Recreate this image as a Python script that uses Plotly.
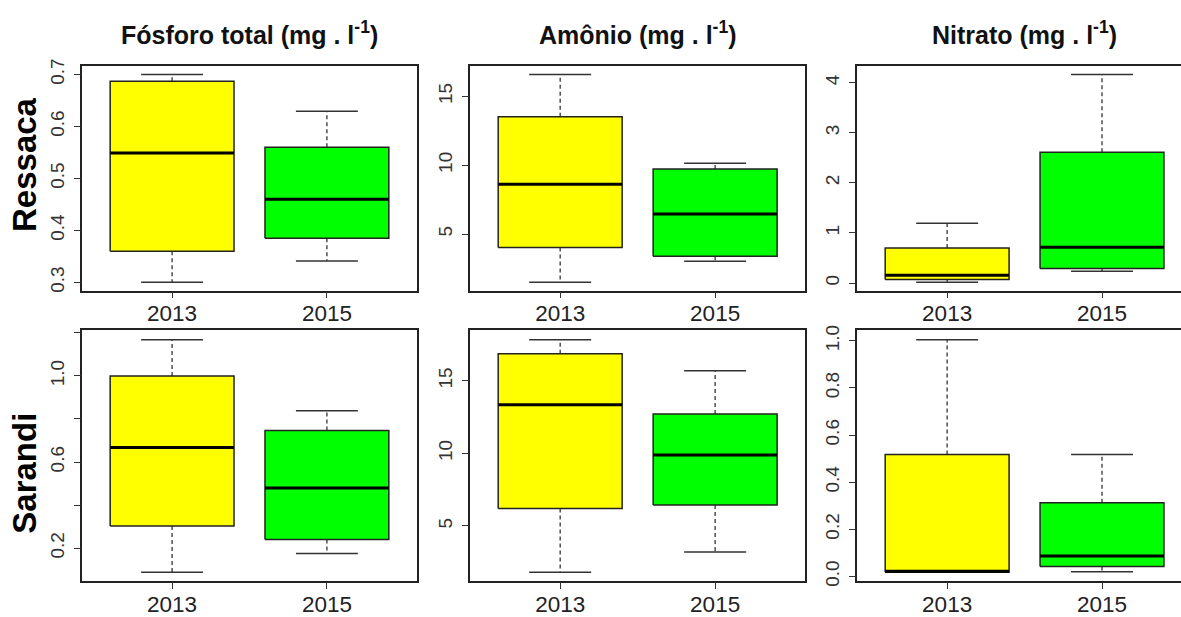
import plotly.graph_objects as go

# Categories
years = ["2013", "2015"]
sites = ["Ressaca", "Sarandi"]
titles = ["Fósforo total (mg . l<sup>-1</sup>)",
          "Amônio (mg . l<sup>-1</sup>)",
          "Nitrato (mg . l<sup>-1</sup>)"]

# Five-number summaries per year: [lower whisker, Q1, median, Q3, upper whisker]
ressaca_fosforo = [[0.300, 0.360, 0.549, 0.687, 0.700],
                   [0.341, 0.385, 0.460, 0.560, 0.629]]
ressaca_amonio = [[1.50, 4.02, 8.61, 13.51, 16.58],
                  [3.03, 3.40, 6.46, 9.72, 10.14]]
ressaca_nitrato = [[0.013, 0.070, 0.153, 0.700, 1.196],
                   [0.237, 0.290, 0.717, 2.614, 4.167]]
sarandi_fosforo = [[0.089, 0.303, 0.668, 1.000, 1.168],
                   [0.176, 0.240, 0.480, 0.746, 0.838]]
sarandi_amonio = [[1.82, 6.20, 13.35, 16.87, 17.83],
                  [3.20, 6.45, 9.89, 12.71, 15.69]]
sarandi_nitrato = [[0.018, 0.018, 0.022, 0.518, 1.005],
                   [0.020, 0.042, 0.087, 0.313, 0.518]]

# Y-axis labelled ticks and unlabelled ticks per panel
ticks_fosforo_r = [0.3, 0.4, 0.5, 0.6, 0.7]
ticks_amonio_r = [5, 10, 15]
ticks_nitrato_r = [0, 1, 2, 3, 4]
ticks_fosforo_s = [0.2, 0.6, 1.0]
minor_fosforo_s = [0.4, 0.8, 1.2]
ticks_amonio_s = [5, 10, 15]
ticks_nitrato_s = [0.0, 0.2, 0.4, 0.6, 0.8, 1.0]

panels = [
    (ressaca_fosforo, ticks_fosforo_r, []),
    (ressaca_amonio, ticks_amonio_r, []),
    (ressaca_nitrato, ticks_nitrato_r, []),
    (sarandi_fosforo, ticks_fosforo_s, minor_fosforo_s),
    (sarandi_amonio, ticks_amonio_s, []),
    (sarandi_nitrato, ticks_nitrato_s, []),
]


def fmt(v):
    if isinstance(v, int):
        return str(v)
    return f"{v:.1f}"


box_colors = ["#FFFF00", "#00FF00"]
FONT = "Liberation Sans, Arial, sans-serif"
W, H = 1181, 617

# Panel geometry (pixels)
col_px = [(82.3, 416.7), (470.3, 805.0), (857.3, 1181.0)]
row_px = [(61.0, 292.7), (333.7, 592.7)]
x_ranges = [[0.42, 2.58], [0.42, 2.58], [0.42, 2.51]]

HALF_BOX = 0.4
HALF_CAP = 0.2

fig = go.Figure()
layout = {}

for k, (stats, tvals, minor_vals) in enumerate(panels):
    r, c = divmod(k, 3)
    n = k + 1
    xa = "x" if n == 1 else f"x{n}"
    ya = "y" if n == 1 else f"y{n}"

    for i, s in enumerate(stats):
        lo, q1, med, q3, up = s
        xc = i + 1
        # dashed whiskers
        fig.add_trace(go.Scatter(
            x=[xc, xc, None, xc, xc], y=[q3, up, None, q1, lo],
            mode="lines", line=dict(color="#333333", width=1.3, dash="4px,3px"),
            xaxis=xa, yaxis=ya, showlegend=False, hoverinfo="skip"))
        # whisker caps
        fig.add_trace(go.Scatter(
            x=[xc - HALF_CAP, xc + HALF_CAP, None, xc - HALF_CAP, xc + HALF_CAP],
            y=[up, up, None, lo, lo],
            mode="lines", line=dict(color="#333333", width=1.5),
            xaxis=xa, yaxis=ya, showlegend=False, hoverinfo="skip"))
        # box
        fig.add_trace(go.Scatter(
            x=[xc - HALF_BOX, xc + HALF_BOX, xc + HALF_BOX, xc - HALF_BOX, xc - HALF_BOX],
            y=[q1, q1, q3, q3, q1],
            mode="lines", fill="toself", fillcolor=box_colors[i],
            line=dict(color="#222222", width=1.5),
            xaxis=xa, yaxis=ya, showlegend=False, hoverinfo="skip"))
        # median
        fig.add_trace(go.Scatter(
            x=[xc - HALF_BOX, xc + HALF_BOX], y=[med, med],
            mode="lines", line=dict(color="#000000", width=3),
            xaxis=xa, yaxis=ya, showlegend=False, hoverinfo="skip"))

    lows = [s[0] for s in stats]
    highs = [s[4] for s in stats]
    ymin, ymax = min(lows), max(highs)
    pad = 0.04 * (ymax - ymin)

    x0, x1 = col_px[c]
    y0, y1 = row_px[r]
    xdom = [x0 / W, min(x1 / W, 1.0)]
    ydom = [1 - y1 / H, 1 - y0 / H]

    layout["xaxis" if n == 1 else f"xaxis{n}"] = dict(
        domain=xdom, anchor=ya, range=x_ranges[c],
        tickvals=[1, 2], ticktext=years,
        ticks="outside", ticklen=6, tickwidth=1.3, tickcolor="#333333",
        showline=True, linecolor="#222222", linewidth=1.5, mirror=True,
        showgrid=False, zeroline=False, ticklabelstandoff=-4,
        tickfont=dict(family=FONT, size=22.5, color="#222222"),
    )
    yax = dict(
        domain=ydom, anchor=xa, range=[ymin - pad, ymax + pad],
        tickvals=tvals, ticktext=[fmt(v) for v in tvals], tickangle=-90,
        ticks="outside", ticklen=7, tickwidth=1.3, tickcolor="#333333",
        showline=True, linecolor="#222222", linewidth=1.5, mirror=(c != 2),
        showgrid=False, zeroline=False, ticklabelstandoff=2,
        tickfont=dict(family=FONT, size=19, color="#333333"),
    )
    if minor_vals:
        yax["minor"] = dict(tickvals=minor_vals, ticks="outside", ticklen=7,
                            tickwidth=1.3, tickcolor="#333333", showgrid=False)
    layout["yaxis" if n == 1 else f"yaxis{n}"] = yax

annotations = []
for c, t in enumerate(titles):
    x0, x1 = col_px[c]
    xc = (x0 + 1192.0) / 2 if c == 2 else (x0 + x1) / 2
    annotations.append(dict(
        text=f"<b>{t}</b>", x=xc / W, y=1 - 27 / H, xref="paper", yref="paper",
        xanchor="center", yanchor="middle", showarrow=False,
        font=dict(family=FONT, size=25, color="#111111")))
for r, (name, ypx) in enumerate(zip(sites, [162.5, 481.0])):
    annotations.append(dict(
        text=f"<b>{name}</b>", x=24.5 / W, y=1 - ypx / H, xref="paper", yref="paper",
        xanchor="center", yanchor="middle", textangle=-90, showarrow=False,
        font=dict(family=FONT, size=33, color="#000000")))

fig.update_layout(
    width=W, height=H,
    margin=dict(l=0, r=0, t=0, b=0),
    paper_bgcolor="white", plot_bgcolor="white",
    annotations=annotations,
    showlegend=False,
    **layout,
)

fig.write_html("out.html")
